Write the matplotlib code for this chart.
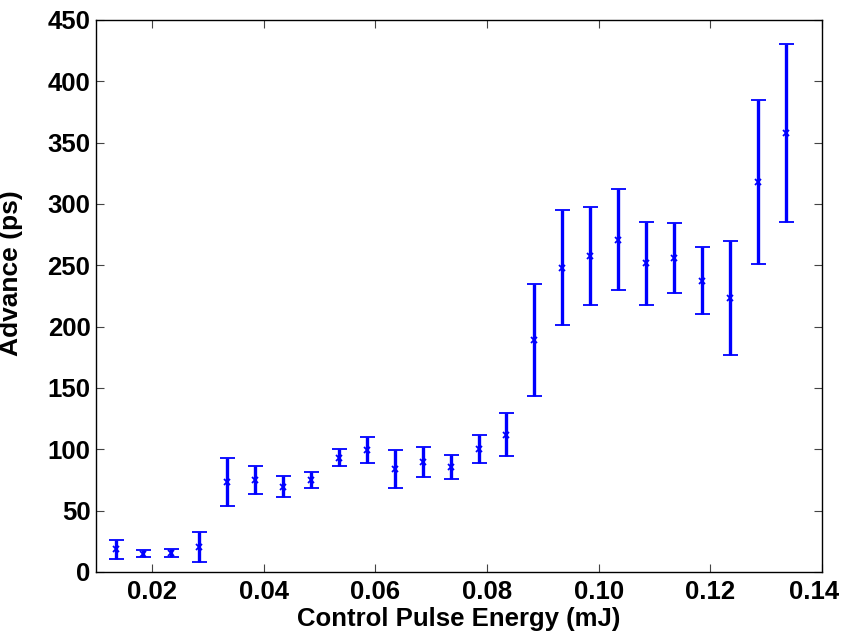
import matplotlib.pyplot as plt
import matplotlib.transforms as mtransforms

# --------------------- Data --------------------- #
energy = [0.0135, 0.0185, 0.0235, 0.0285, 0.0335, 0.0385, 0.0435, 0.0485,
          0.0535, 0.0585, 0.0635, 0.0685, 0.0735, 0.0785, 0.0835, 0.0885,
          0.0935, 0.0985, 0.1035, 0.1085, 0.1135, 0.1185, 0.1235, 0.1285,
          0.1335]
advance = [18.5, 15, 15.5, 20.5, 73.5, 75, 69.5, 75,
           93, 99.5, 84, 89.5, 85.5, 100.5, 112, 189,
           248, 257.5, 271, 251.5, 256, 237.5, 223.5, 318,
           358]
error = [7.5, 3, 3.5, 12, 19.5, 11.5, 8.5, 6.5,
         7, 10.5, 15.5, 12, 10, 11.5, 17.5, 45.5,
         47, 40, 41, 34, 28.5, 27.5, 46.5, 67,
         72.5]
xtick_vals = [0.02, 0.04, 0.06, 0.08, 0.10, 0.12, 0.14]
xtick_labels = ['0.02', '0.04', '0.06', '0.08', '0.10', '0.12', '0.14']

plt.rcParams['font.family'] = ['Liberation Sans', 'DejaVu Sans']
plt.rcParams['font.weight'] = 'bold'

fig = plt.figure(figsize=(8.43, 6.34), dpi=100)
ax = fig.add_axes([0.1139, 0.0978, 0.8611, 0.8707])

ax.errorbar(energy, advance, yerr=error, fmt='x', color='#0000ff',
            ecolor='#0000ff', elinewidth=2.4, capsize=5.4, capthick=1.4,
            markersize=4, markeredgewidth=1.3)

ax.set_xlim(0.01, 0.14)
ax.set_ylim(0, 450)
ax.set_xticks(xtick_vals)
ax.set_xticklabels(xtick_labels)
ax.set_yticks(range(0, 451, 50))

ax.tick_params(direction='in', length=6, width=0.8, top=True, right=True,
               labelsize=18.5, color='#444444')
ax.tick_params(axis='x', pad=6)
ax.tick_params(axis='y', pad=4)
for s in ax.spines.values():
    s.set_linewidth(1.0)

# last tick label pulled left so it fits inside the figure
last = ax.get_xticklabels()[-1]
last.set_transform(last.get_transform() +
                   mtransforms.ScaledTranslation(-6 / 72, 0, fig.dpi_scale_trans))

ax.set_xlabel('Control Pulse Energy (mJ)', fontsize=18.5, fontweight='bold', labelpad=2)
ax.set_ylabel('Advance (ps)', fontsize=19, fontweight='bold')
ax.yaxis.set_label_coords(-0.1005, 0.5417)

plt.savefig('out.png', dpi=100)
plt.close()
